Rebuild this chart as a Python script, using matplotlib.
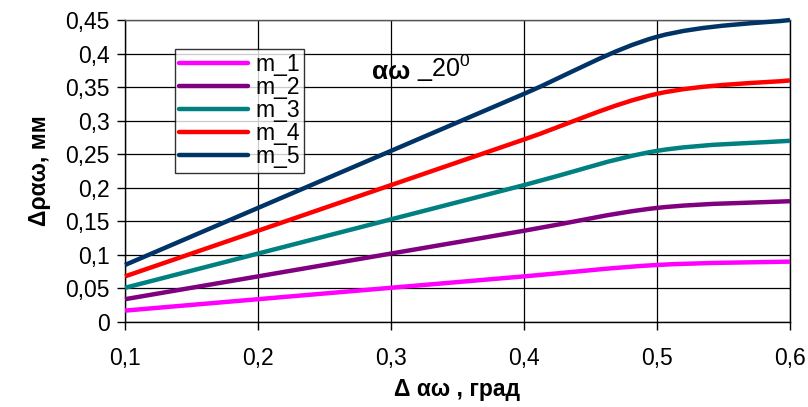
import matplotlib
matplotlib.use('Agg')
import matplotlib.pyplot as plt
import numpy as np
from matplotlib.path import Path
from matplotlib.patches import PathPatch
from matplotlib.lines import Line2D

plt.rcParams['font.family'] = ['Liberation Sans', 'DejaVu Sans']
plt.rcParams['mathtext.fontset'] = 'custom'
plt.rcParams['mathtext.rm'] = 'Liberation Sans'

# данные
x = [0.1, 0.2, 0.3, 0.4, 0.5, 0.6]
m_1 = [0.017, 0.034, 0.051, 0.068, 0.085, 0.090]
m_2 = [0.034, 0.068, 0.102, 0.136, 0.170, 0.180]
m_3 = [0.051, 0.102, 0.153, 0.204, 0.255, 0.270]
m_4 = [0.068, 0.136, 0.204, 0.272, 0.340, 0.360]
m_5 = [0.085, 0.170, 0.255, 0.340, 0.425, 0.450]
names = ['m_1', 'm_2', 'm_3', 'm_4', 'm_5']
colors = ['#FF00FF', '#800080', '#008080', '#FF0000', '#003366']
yticks = [0, 0.05, 0.1, 0.15, 0.2, 0.25, 0.3, 0.35, 0.4, 0.45]
xticks = [0.1, 0.2, 0.3, 0.4, 0.5, 0.6]


# сглаженная линия как в Excel (кубические кривые Безье)
def smooth_path(xs, ys):
    p = np.column_stack([xs, ys])
    n = len(p)
    verts = [p[0]]
    codes = [Path.MOVETO]
    for i in range(n - 1):
        p0 = p[i - 1] if i > 0 else p[i]
        p3 = p[i + 2] if i + 2 < n else p[i + 1]
        c1 = p[i] + (p[i + 1] - p0) / 6
        c2 = p[i + 1] - (p3 - p[i]) / 6
        verts += [c1, c2, p[i + 1]]
        codes += [Path.CURVE4] * 3
    return Path(verts, codes)


fig = plt.figure(figsize=(8.08, 4.07), dpi=100)
ax = fig.add_axes([0.1547, 0.2088, 0.823, 0.742])

handles = []
for data, name, c in zip([m_1, m_2, m_3, m_4, m_5], names, colors):
    patch = PathPatch(smooth_path(x, data), fill=False, edgecolor=c, lw=3.2,
                      capstyle='butt', zorder=3, clip_on=False)
    ax.add_patch(patch)
    handles.append(Line2D([], [], color=c, lw=3.2, solid_capstyle='round', label=name))

ax.set_xlim(0.1, 0.6)
ax.set_ylim(0, 0.45)
ax.set_xticks(xticks)
ax.set_yticks(yticks)
ax.set_xticklabels([f'{v:g}'.replace('.', ',') for v in xticks])
ax.set_yticklabels([f'{v:g}'.replace('.', ',') for v in yticks])
ax.tick_params(axis='both', labelsize=16.5, direction='out', length=6, width=1, color='black')
ax.tick_params(axis='x', pad=12)
ax.tick_params(axis='y', pad=5)
ax.grid(True, color='black', lw=0.9)
for s in ax.spines.values():
    s.set_linewidth(1)
ax.spines['top'].set_color('#555555')

ax.set_xlabel('Δ αω , град', fontsize=16.5, fontweight='bold', labelpad=6)
ax.set_ylabel('Δραω, мм', fontsize=16.5, fontweight='bold', labelpad=10)

t = fig.text(0.461, 0.807, 'αω', fontsize=19, fontweight='bold')
ax.annotate(' _20$^0$', xy=(1, 0), xycoords=t, fontsize=18, va='bottom')

leg = ax.legend(handles=handles, loc='upper left', bbox_to_anchor=(0.075, 0.905),
                fontsize=16.5, frameon=True, fancybox=False, edgecolor='black',
                handlelength=3.0, handletextpad=0.3, labelspacing=0.0,
                borderpad=0.2, borderaxespad=0)
leg.get_frame().set_linewidth(1)

fig.savefig('out.png', dpi=100)
